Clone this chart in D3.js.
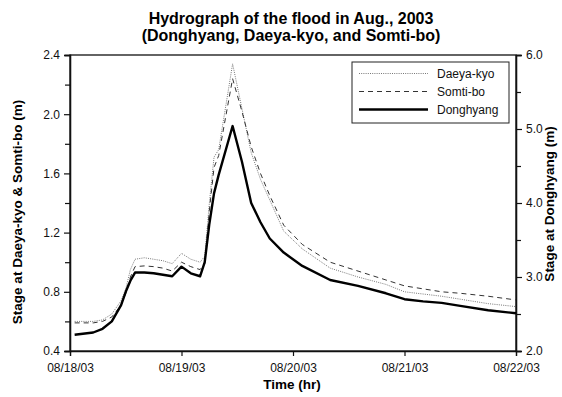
<!DOCTYPE html>
<html><head><meta charset="utf-8">
<script src="https://cdn.jsdelivr.net/npm/d3@7"></script>
<style>body{margin:0;background:#fff}svg{display:block}text{font-family:"Liberation Sans",Arial,sans-serif}</style>
</head><body><svg id="c" width="562" height="397"></svg>
<script>
// hours after 08/18/03 00:00
const hours = [1,5,7,9,11,12,13,14,16,18,20,22,24,26,28,29,30,31,32,35,37,39,41,43,46,50,56,62,68,72,76,80,84,90,96];
const daeyaKyo = [0.60,0.60,0.61,0.65,0.74,0.82,0.95,1.02,1.03,1.02,1.01,0.99,1.06,1.02,1.00,1.04,1.40,1.71,1.76,2.34,2.04,1.74,1.56,1.42,1.21,1.09,0.96,0.90,0.85,0.80,0.785,0.77,0.75,0.72,0.70];
const somtiBo  = [0.59,0.59,0.60,0.63,0.71,0.79,0.90,0.97,0.975,0.97,0.96,0.94,1.00,0.97,0.95,0.99,1.35,1.64,1.72,2.24,2.02,1.78,1.60,1.45,1.25,1.12,1.00,0.94,0.88,0.84,0.82,0.80,0.79,0.77,0.745];
const donghyang= [2.22,2.25,2.30,2.40,2.62,2.80,2.95,3.06,3.06,3.05,3.03,3.01,3.14,3.05,3.01,3.20,3.72,4.13,4.38,5.04,4.56,4.00,3.74,3.52,3.33,3.15,2.96,2.88,2.78,2.70,2.67,2.65,2.61,2.55,2.51];
const xTickLabels = ["08/18/03","08/19/03","08/20/03","08/21/03","08/22/03"];
const leftTicks = [0.4,0.8,1.2,1.6,2.0,2.4];
const leftMinor = [0.6,1.0,1.4,1.8,2.2];
const rightTicks = [2.0,3.0,4.0,5.0,6.0];
const rightMinor = [2.5,3.5,4.5,5.5];
const seriesNames = ["Daeya-kyo","Somti-bo","Donghyang"];

const svg = d3.select("#c");
const m = {l:70, r:516, t:55, b:351};
const parse = d3.timeParse("%m/%d/%y");
const t0 = parse(xTickLabels[0]);
const toDate = h => new Date(t0.getTime() + h*3600e3);
const x = d3.scaleTime().domain([t0, parse(xTickLabels[4])]).range([m.l, m.r]);
const yL = d3.scaleLinear().domain([0.4,2.4]).range([m.b, m.t]);
const yR = d3.scaleLinear().domain([2.0,6.0]).range([m.b, m.t]);

// frame
svg.append("rect").attr("x",m.l).attr("y",m.t).attr("width",m.r-m.l).attr("height",m.b-m.t)
  .attr("fill","none").attr("stroke","#111").attr("stroke-width",1.3);

// axes
svg.append("g").attr("transform",`translate(0,${m.b})`)
  .call(d3.axisBottom(x).tickValues(xTickLabels.map(parse)).tickFormat(d3.timeFormat("%m/%d/%y")).tickSize(5).tickPadding(7));
svg.append("g").attr("transform",`translate(${m.l},0)`)
  .call(d3.axisLeft(yL).tickValues(leftTicks).tickFormat(d3.format(".1f")).tickSize(6).tickPadding(4));
svg.append("g").attr("transform",`translate(${m.l},0)`)
  .call(d3.axisLeft(yL).tickValues(leftMinor).tickFormat("").tickSize(5));
svg.append("g").attr("transform",`translate(${m.r},0)`)
  .call(d3.axisRight(yR).tickValues(rightTicks).tickFormat(d3.format(".1f")).tickSize(6).tickPadding(4));
svg.append("g").attr("transform",`translate(${m.r},0)`)
  .call(d3.axisRight(yR).tickValues(rightMinor).tickFormat("").tickSize(5));
svg.selectAll(".domain").attr("stroke","#111").attr("stroke-width",1.3);
svg.selectAll(".tick line").attr("stroke","#111").attr("stroke-width",1.2);
svg.selectAll(".tick text").attr("font-size",12).attr("fill","#111").attr("font-family","Liberation Sans, Arial, sans-serif");

// lines
const lineL = d3.line().x((d,i)=>x(toDate(hours[i]))).y(d=>yL(d));
const lineR = d3.line().x((d,i)=>x(toDate(hours[i]))).y(d=>yR(d));
svg.append("path").attr("d",lineL(daeyaKyo)).attr("fill","none").attr("stroke","#777").attr("stroke-width",1).attr("stroke-dasharray","1,1.2");
svg.append("path").attr("d",lineL(somtiBo)).attr("fill","none").attr("stroke","#333").attr("stroke-width",1).attr("stroke-dasharray","5,4");
svg.append("path").attr("d",lineR(donghyang)).attr("fill","none").attr("stroke","#000").attr("stroke-width",2.4).attr("stroke-linejoin","round");

// legend
const lg = svg.append("g");
lg.append("rect").attr("x",352).attr("y",62).attr("width",157).attr("height",61).attr("fill","#fff").attr("stroke","#222").attr("stroke-width",1);
const styles = [{s:"#777",w:1,d:"1,1.2"},{s:"#333",w:1,d:"5,4"},{s:"#000",w:2.4,d:null}];
seriesNames.forEach((n,i)=>{
  const yy = 73.5 + i*18;
  lg.append("line").attr("x1",359).attr("x2",428).attr("y1",yy).attr("y2",yy)
    .attr("stroke",styles[i].s).attr("stroke-width",styles[i].w).attr("stroke-dasharray",styles[i].d);
  lg.append("text").attr("x",437).attr("y",yy+4).attr("font-size",12).attr("fill","#111").text(n);
});

// titles
svg.append("text").attr("x",291).attr("y",24).attr("text-anchor","middle").attr("font-size",16).attr("font-weight","bold").text("Hydrograph of the flood in Aug., 2003");
svg.append("text").attr("x",291).attr("y",41).attr("text-anchor","middle").attr("font-size",16).attr("font-weight","bold").text("(Donghyang, Daeya-kyo, and Somti-bo)");
svg.append("text").attr("x",292).attr("y",389).attr("text-anchor","middle").attr("font-size",13.5).attr("font-weight","bold").text("Time (hr)");
svg.append("text").attr("transform","translate(22,212) rotate(-90)").attr("text-anchor","middle").attr("font-size",13.5).attr("font-weight","bold").text("Stage at Daeya-kyo & Somti-bo (m)");
svg.append("text").attr("transform","translate(554,204) rotate(-90)").attr("text-anchor","middle").attr("font-size",13.5).attr("font-weight","bold").text("Stage at Donghyang (m)");
</script></body></html>
